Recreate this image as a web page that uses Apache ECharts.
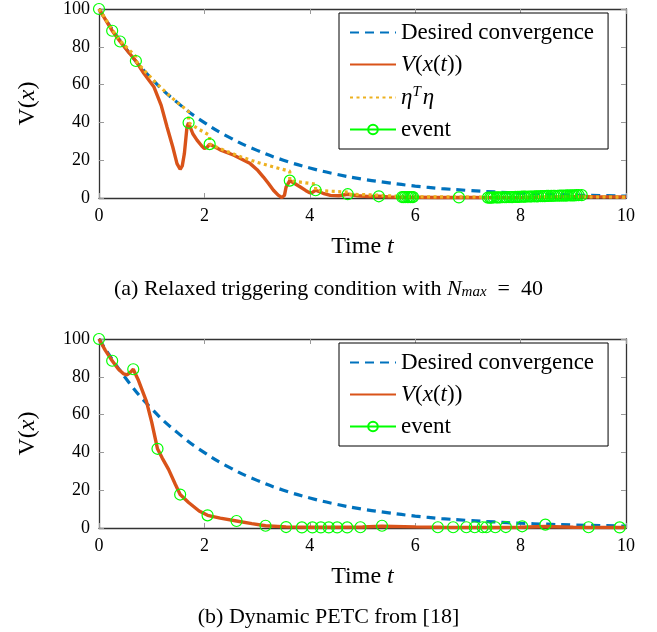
<!DOCTYPE html>
<html><head><meta charset="utf-8">
<script src="https://cdn.jsdelivr.net/npm/echarts@6/dist/echarts.min.js"></script>
<style>html,body{margin:0;padding:0;background:#fff}#c{width:657px;height:632px}</style>
</head><body><div id="c"></div>
<script>
// ---- tick labels ----
const xTicks = [0, 2, 4, 6, 8, 10];
const yTicks = [0, 20, 40, 60, 80, 100];

// ---- desired convergence (both panels) ----
const desiredT = [0,0.5,1,1.5,2,2.5,3,3.5,4,4.5,5,5.5,6,6.5,7,7.5,8,8.5,9,9.5,10];
const desiredV = [100,79.5,63.1,50.2,39.9,31.7,25.2,20.0,15.9,12.6,10.0,8.0,6.3,5.0,4.0,3.2,2.5,2.0,1.6,1.3,1.0];

// ---- panel (a): V(x(t)) ----
const aVT = [0,0.25,0.4,0.55,0.7,0.85,1.04,1.18,1.29,1.4,1.48,1.54,1.58,1.62,1.67,1.70,1.78,1.86,1.95,2.0,2.05,2.10,2.3,2.56,2.87,3.0,3.12,3.22,3.31,3.4,3.47,3.52,3.55,3.62,3.72,3.82,3.92,4.0,4.05,4.11,4.25,4.39,4.55,4.72,4.9,5.1,5.31,5.5,5.75,6.0,6.4,6.83,7.1,7.38,8.0,8.6,9.16,9.5,10];
const aVV = [100,88.5,82.8,77.5,72.5,66,58.9,49,37.7,27,18.2,15.2,17,23.5,37.7,39.8,34,30.6,27.5,26.2,26.8,28.5,25.5,22.6,18.2,15,11.1,7.5,4.1,1.5,0.2,1.5,5.8,9.2,7.5,5.8,4,2.7,3,4.1,2.5,1.4,1.2,2.0,1.2,0.8,0.9,0.5,0.4,0.4,0.3,0.3,0.3,0.2,0.3,0.5,0.8,0.6,0.5];

// ---- panel (a): eta^T eta (resets at events) ----
const aEtaT = [0,0.25,0.25,0.4,0.4,0.7,0.7,0.9,1.1,1.3,1.5,1.7,1.7,1.9,2.1,2.1,2.4,2.7,3.0,3.3,3.62,3.62,3.85,4.11,4.11,4.4,4.72,4.72,5.0,5.31,5.31,5.75,6.5,7.4,8.5,10];
const aEtaV = [100,89.1,88.5,83.2,82.8,74.8,72.5,66.2,60.4,55.1,50.2,45.8,39.8,36.3,33.1,28.5,24.9,21.7,18.9,16.5,14.2,9.2,8.3,7.3,4.1,3.6,3.1,2.0,1.8,1.5,0.9,0.7,0.6,0.5,0.6,0.5];

// ---- panel (a): events ----
const aEvT = [0,0.25,0.4,0.7,1.7,2.1,3.62,4.11,4.72,5.31,5.75,5.78,5.81,5.85,5.88,5.91,5.94,5.96,6.83,
  7.38,7.42,7.45,7.49,7.54,7.57,7.61,7.66,7.70,7.73,7.78,7.82,7.85,7.90,7.94,7.97,8.02,8.06,8.09,8.14,8.18,8.21,8.26,8.30,8.33,8.38,8.42,8.46,8.50,8.53,8.58,8.62,8.65,8.70,8.74,8.78,8.82,8.86,8.89,8.94,8.98,9.02,9.06,9.10,9.16];
const aEvV = [100,88.5,82.8,72.5,39.8,28.5,9.2,4.1,2.0,0.9,0.5,0.5,0.5,0.5,0.5,0.5,0.5,0.5,0.3,
  0.2,0.2,0.2,0.3,0.3,0.3,0.3,0.4,0.4,0.4,0.5,0.5,0.5,0.6,0.6,0.6,0.7,0.7,0.7,0.8,0.8,0.8,0.9,0.9,0.9,1.0,1.0,1.0,1.1,1.1,1.1,1.2,1.2,1.2,1.3,1.3,1.3,1.3,1.4,1.4,1.4,1.4,1.5,1.5,1.5];

// ---- panel (b): V(x(t)) ----
const bVT = [0,0.12,0.25,0.37,0.47,0.53,0.6,0.65,0.75,0.9,1.0,1.11,1.2,1.32,1.45,1.54,1.7,1.9,2.06,2.3,2.61,2.9,3.16,3.55,4.0,5.0,5.37,6.0,6.5,7.5,8.0,8.47,9.0,10];
const bVV = [100,94,88.5,84,81.5,81,82.5,84,78,67,56,41.9,37,31,23,17.7,13.5,9,6.7,5.2,3.7,2.3,1.2,0.6,0.4,0.5,0.9,0.6,0.4,0.3,0.4,0.8,0.4,0.3];

// ---- panel (b): events ----
const bEvT = [0,0.25,0.65,1.11,1.54,2.06,2.61,3.16,3.55,3.85,4.05,4.21,4.36,4.52,4.71,4.96,5.37,6.43,6.72,6.97,7.13,7.28,7.35,7.52,7.72,8.03,8.47,9.29,9.88];
const bEvV = [100,88.5,84,41.9,17.7,6.7,3.7,1.2,0.5,0.3,0.3,0.3,0.3,0.3,0.3,0.4,1.2,0.4,0.4,0.4,0.4,0.4,0.4,0.4,0.5,0.9,1.8,0.4,0.3];

const pairs = (xs, ys) => xs.map((x, i) => [x, ys[i]]);

const SERIF = "'Liberation Serif', 'DejaVu Serif', serif";
const BLUE = '#0072BD', ORANGE = '#D95319', YELLOW = '#EDB120', GREEN = '#00FF00';

const G = [
  {left: 99, top: 9, width: 527, height: 189},
  {left: 99, top: 339, width: 527, height: 189}
];

const axisLineStyle = {show: true, onZero: false, lineStyle: {color: '#333', width: 1.3}};
const tickStyle = {show: true, inside: true, length: 5, lineStyle: {color: '#999'}};

function xMain(gi) {
  return {
    type: 'value', gridIndex: gi, min: 0, max: 10, interval: 2,
    name: '{n|Time }{i|t}', nameLocation: 'middle', nameGap: 37,
    nameTextStyle: {rich: {n: {fontFamily: SERIF, fontSize: 24, color: '#000'}, i: {fontFamily: SERIF, fontSize: 24, fontStyle: 'italic', color: '#000'}}},
    axisLine: axisLineStyle, axisTick: tickStyle,
    axisLabel: {fontFamily: SERIF, fontSize: 18, color: '#000', margin: 9},
    splitLine: {show: false}
  };
}
function xTop(gi) {
  return {
    type: 'value', gridIndex: gi, min: 0, max: 10, interval: 2, position: 'top',
    axisLine: axisLineStyle, axisTick: tickStyle,
    axisLabel: {show: false}, splitLine: {show: false}
  };
}
function yMain(gi) {
  return {
    type: 'value', gridIndex: gi, min: 0, max: 100, interval: 20,
    name: '{n|V(}{i|x}{n|)}', nameLocation: 'middle', nameGap: 59, nameRotate: 90,
    nameTextStyle: {rich: {n: {fontFamily: SERIF, fontSize: 24, color: '#000'}, i: {fontFamily: SERIF, fontSize: 24, fontStyle: 'italic', color: '#000'}}},
    axisLine: axisLineStyle, axisTick: tickStyle,
    axisLabel: {fontFamily: SERIF, fontSize: 18, color: '#000', margin: 9},
    splitLine: {show: false}
  };
}
function yRight(gi) {
  return {
    type: 'value', gridIndex: gi, min: 0, max: 100, interval: 20, position: 'right',
    axisLine: axisLineStyle, axisTick: tickStyle,
    axisLabel: {show: false}, splitLine: {show: false}
  };
}

function desiredSeries(gi) {
  return {name: 'Desired convergence', type: 'line', xAxisIndex: gi, yAxisIndex: gi,
    data: pairs(desiredT, desiredV), symbol: 'none', smooth: true,
    lineStyle: {color: BLUE, width: 3.2, type: [9, 6]}, itemStyle: {color: BLUE}};
}
function vSeries(gi, xs, ys) {
  return {name: 'V', type: 'line', xAxisIndex: gi, yAxisIndex: gi,
    data: pairs(xs, ys), symbol: 'none',
    lineStyle: {color: ORANGE, width: 3.4}, itemStyle: {color: ORANGE}};
}
function eventSeries(gi, xs, ys) {
  return {name: 'event', type: 'line', xAxisIndex: gi, yAxisIndex: gi,
    data: pairs(xs, ys), symbol: 'circle', symbolSize: 11, showAllSymbol: true,
    lineStyle: {width: 0, opacity: 0, color: GREEN},
    itemStyle: {color: 'rgba(0,0,0,0)', borderColor: GREEN, borderWidth: 1.2}, z: 5};
}

const legendRich = {
  n: {fontFamily: SERIF, fontSize: 23, color: '#000'},
  i: {fontFamily: SERIF, fontSize: 23, fontStyle: 'italic', color: '#000'},
  s: {fontFamily: SERIF, fontSize: 15, fontStyle: 'italic', color: '#000', verticalAlign: 'top', padding: [0, 2, 10, 0]}
};
function legendFmt(name) {
  if (name === 'V') return '{i|V}{n|(}{i|x}{n|(}{i|t}{n|))}';
  if (name === 'eta') return '{i|η}{s|T}{i|η}';
  return '{n|' + name + '}';
}
function legend(top, names) {
  return {
    orient: 'vertical', left: 339, top: top, itemWidth: 46, itemHeight: 12, itemGap: 9,
    padding: [8, 14, 8, 10], borderColor: '#000', borderWidth: 1, backgroundColor: '#fff',
    textStyle: {rich: legendRich}, formatter: legendFmt,
    data: names.map(n => n === 'event' ? {name: n} : {name: n, itemStyle: {opacity: 0}}),
    selectedMode: false
  };
}

const capRich = {
  n: {fontFamily: SERIF, fontSize: 22, fontWeight: 'normal', color: '#000'},
  i: {fontFamily: SERIF, fontSize: 22, fontWeight: 'normal', fontStyle: 'italic', color: '#000'},
  sb: {fontFamily: SERIF, fontSize: 15, fontWeight: 'normal', fontStyle: 'italic', color: '#000', verticalAlign: 'bottom', padding: [7, 0, 0, 0]}
};

const option = {
  animation: false,
  backgroundColor: '#fff',
  grid: G,
  xAxis: [xMain(0), xMain(1), xTop(0), xTop(1)],
  yAxis: [yMain(0), yMain(1), yRight(0), yRight(1)],
  legend: [legend(13, ['Desired convergence', 'V', 'eta', 'event']), legend(343, ['Desired convergence', 'V', 'event'])],
  title: [
    {text: '{n|(a) Relaxed triggering condition with }{i|N}{sb|max}{n|  =  40}', left: 'center', top: 273, textStyle: {fontWeight: 'normal', rich: capRich}},
    {text: '{n|(b) Dynamic PETC from [18]}', left: 'center', top: 601, textStyle: {fontWeight: 'normal', rich: capRich}}
  ],
  series: [
    // legend-style carrier for "event" (no data, draws nothing in the plot)
    {name: 'event', type: 'line', xAxisIndex: 0, yAxisIndex: 0, data: [], symbol: 'circle', symbolSize: 11,
      lineStyle: {width: 1.2, color: GREEN}, itemStyle: {color: 'rgba(0,0,0,0)', borderColor: GREEN, borderWidth: 1.2}},
    desiredSeries(0),
    vSeries(0, aVT, aVV),
    {name: 'eta', type: 'line', xAxisIndex: 0, yAxisIndex: 0, data: pairs(aEtaT, aEtaV), symbol: 'none',
      lineStyle: {color: YELLOW, width: 3.2, type: [3, 3.5]}, itemStyle: {color: YELLOW}},
    eventSeries(0, aEvT, aEvV),
    desiredSeries(1),
    vSeries(1, bVT, bVV),
    eventSeries(1, bEvT, bEvV)
  ]
};
echarts.init(document.getElementById('c')).setOption(option);
</script></body></html>
